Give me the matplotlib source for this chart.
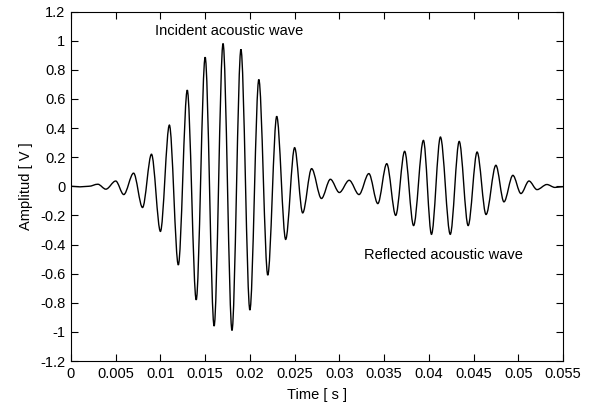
import numpy as np
import matplotlib
matplotlib.use("Agg")
import matplotlib.pyplot as plt
from matplotlib.path import Path
from matplotlib.patches import PathPatch
from matplotlib.ticker import FuncFormatter

# extremos de la onda (tiempo en s, amplitud en V)
tiempo = [0.0, 0.0010, 0.0020, 0.0030, 0.0039, 0.0050, 0.0059, 0.0070, 0.0080,
          0.0090, 0.0100, 0.0110, 0.0120, 0.0130, 0.0140, 0.0150, 0.0160, 0.0170,
          0.0180, 0.0190, 0.0200, 0.0210, 0.0220, 0.0230, 0.0240, 0.0250, 0.0259,
          0.0269, 0.0280, 0.0290, 0.0300, 0.0311, 0.0322, 0.0333, 0.0343, 0.0353,
          0.0363, 0.0373, 0.0383, 0.0394, 0.0403, 0.0413, 0.0424, 0.0434, 0.0444,
          0.0454, 0.0464, 0.0475, 0.0484, 0.0494, 0.0503, 0.0512, 0.0521, 0.0532,
          0.0541, 0.0550]
amplitud = [0.0, -0.004, 0.0, 0.014, -0.02, 0.036, -0.057, 0.09, -0.146,
            0.22, -0.31, 0.42, -0.54, 0.66, -0.78, 0.886, -0.96, 0.98,
            -0.99, 0.94, -0.85, 0.733, -0.61, 0.48, -0.365, 0.265, -0.183,
            0.121, -0.084, 0.048, -0.043, 0.041, -0.057, 0.087, -0.119, 0.155,
            -0.2, 0.24, -0.27, 0.315, -0.33, 0.338, -0.33, 0.308, -0.27,
            0.235, -0.194, 0.144, -0.107, 0.075, -0.05, 0.036, -0.023, 0.012,
            -0.008, -0.003]

plt.rcParams['font.family'] = ['Liberation Sans', 'DejaVu Sans']
plt.rcParams['axes.unicode_minus'] = False

fig = plt.figure(figsize=(5.9, 4.05), dpi=100)
ax = fig.add_axes([0.1203, 0.1086, 0.8339, 0.863])

# curva suave entre extremos (tangente horizontal en cada pico)
verts = [(tiempo[0], amplitud[0])]
codes = [Path.MOVETO]
for i in range(len(tiempo) - 1):
    t0, a0 = tiempo[i], amplitud[i]
    t1, a1 = tiempo[i + 1], amplitud[i + 1]
    dt = t1 - t0
    verts += [(t0 + dt / 3, a0), (t1 - dt / 3, a1), (t1, a1)]
    codes += [Path.CURVE4] * 3
ax.add_patch(PathPatch(Path(verts, codes), fill=False, edgecolor='black',
                       linewidth=1.0, transform=ax.transData))

ax.set_xlim(0, 0.055)
ax.set_ylim(-1.2, 1.2)
ax.set_xticks(np.arange(0, 0.0551, 0.005))
ax.set_yticks(np.arange(-1.2, 1.21, 0.2))
fmt = FuncFormatter(lambda v, p: ('%g' % round(v, 4)) if abs(v) > 1e-9 else '0')
ax.xaxis.set_major_formatter(fmt)
ax.yaxis.set_major_formatter(fmt)
ax.tick_params(direction='in', length=5, width=0.8, top=True, right=True,
               labelsize=10.5, colors='black', pad=4)
for s in ax.spines.values():
    s.set_linewidth(0.8)

ax.set_xlabel("Time [ s ]", fontsize=10.5, labelpad=5)
ax.set_ylabel("Amplitud [ V ]", fontsize=10.5, labelpad=5)

ax.text(0.0177, 1.068, "Incident acoustic wave", fontsize=10.5, ha='center', va='center')
ax.text(0.0416, -0.473, "Reflected acoustic wave", fontsize=10.5, ha='center', va='center')

plt.savefig("out.png", dpi=100)
